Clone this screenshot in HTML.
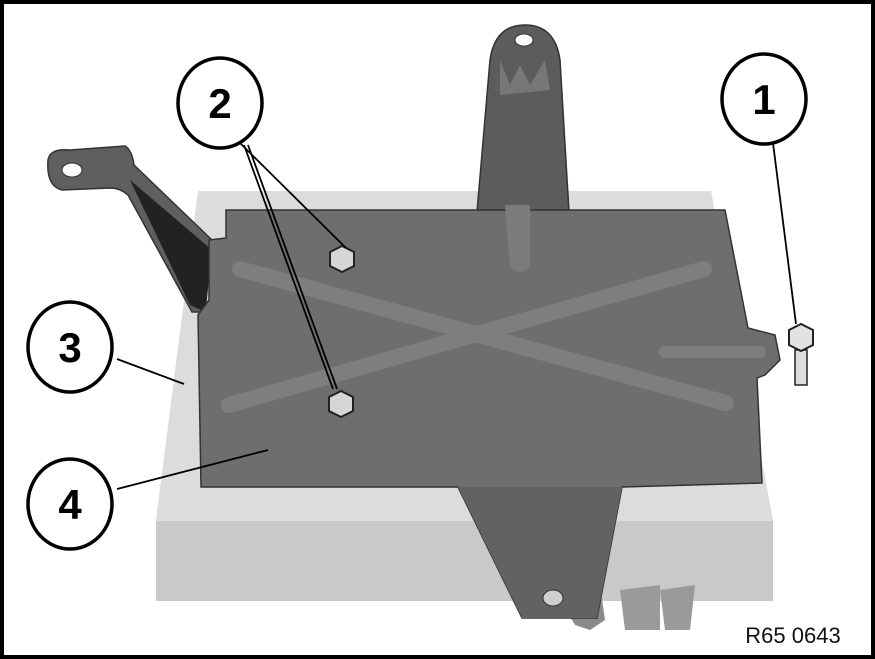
<!DOCTYPE html>
<html><head><meta charset="utf-8"><style>
html,body{margin:0;padding:0;background:#fff;}
svg{display:block;}
</style></head><body>
<svg width="875" height="659" viewBox="0 0 875 659">
<rect x="2" y="2" width="871" height="655" fill="#fff" stroke="#000" stroke-width="4"/>
<g>
<polygon points="198,191 711,191 773,520 773,601 156,601 156,520" fill="#dcdcdc"/>
<rect x="156" y="521" width="617" height="80" fill="#c9c9c9"/>
<polygon points="560,600 600,585 605,620 590,630 575,625" fill="#8a8a8a"/>
<polygon points="620,590 660,585 660,630 625,630" fill="#9a9a9a"/>
<polygon points="660,590 695,585 690,630 665,630" fill="#9a9a9a"/>
</g>
<g>
<path d="M48,160 Q50,148 70,150 L125,146 Q132,150 134,165 L212,240 L205,312 L192,312 L128,195 Q120,188 110,188 L62,190 Q46,186 48,160 Z" fill="#5f5f5f" stroke="#333" stroke-width="1.5"/>
<polygon points="130,180 212,250 205,312 190,305" fill="#222"/>
<ellipse cx="72" cy="170" rx="10" ry="7" fill="#fff" stroke="#333"/>
</g>
<g>
<path d="M477,212 L490,60 Q495,25 525,25 Q555,25 560,60 L569,212 Z" fill="#5c5c5c" stroke="#333" stroke-width="1.5"/>
<ellipse cx="524" cy="40" rx="9" ry="6" fill="#fff" stroke="#333"/>
<polygon points="500,60 510,85 520,65 530,85 545,60 550,90 500,95" fill="#777"/>
</g>
<g>
<polygon points="226,210 725,210 748,328 775,335 780,360 765,375 757,378 762,483 622,487 597,618 522,618 458,487 201,487 198,315 209,300 209,240 226,238" fill="#6e6e6e" stroke="#333" stroke-width="1.5"/>
<polygon points="458,487 622,487 597,618 522,618" fill="#626262"/>
<ellipse cx="553" cy="598" rx="10" ry="8" fill="#cfcfcf" stroke="#333"/>
<path d="M505,205 L530,205 L530,265 Q520,280 510,265 Z" fill="#7c7c7c"/>
<line x1="240" y1="269" x2="726" y2="403" stroke="#7e7e7e" stroke-width="16" stroke-linecap="round"/>
<line x1="229" y1="405" x2="704" y2="269" stroke="#7e7e7e" stroke-width="16" stroke-linecap="round"/>
<line x1="665" y1="352" x2="760" y2="352" stroke="#7e7e7e" stroke-width="12" stroke-linecap="round"/>
</g>
<g>
<polygon points="330,252 342,246 354,252 354,266 342,272 330,266" fill="#d6d6d6" stroke="#222" stroke-width="2"/>
<polygon points="329,397 341,391 353,397 353,411 341,417 329,411" fill="#d6d6d6" stroke="#222" stroke-width="2"/>
</g>
<g>
<rect x="795" y="350" width="12" height="35" fill="#ddd" stroke="#222" stroke-width="1.5"/>
<polygon points="789,330 801,324 813,330 813,345 801,351 789,345" fill="#e2e2e2" stroke="#222" stroke-width="2"/>
</g>
<g fill="none" stroke="#000" stroke-width="1.8">
<line x1="773" y1="143" x2="796" y2="324"/>
<line x1="240" y1="143" x2="346" y2="248"/>
<line x1="244" y1="145" x2="333" y2="389"/>
<line x1="248" y1="145" x2="337" y2="389"/>
<line x1="117" y1="359" x2="184" y2="384"/>
<line x1="117" y1="489" x2="268" y2="450"/>
</g>
<g font-family="Liberation Sans, sans-serif" font-weight="bold" font-size="42" text-anchor="middle">
<g><ellipse cx="764" cy="99" rx="42" ry="45" fill="#fff" stroke="#000" stroke-width="3.5"/><text x="764" y="114">1</text></g>
<g><ellipse cx="220" cy="103" rx="42" ry="45" fill="#fff" stroke="#000" stroke-width="3.5"/><text x="220" y="118">2</text></g>
<g><ellipse cx="70" cy="347" rx="42" ry="45" fill="#fff" stroke="#000" stroke-width="3.5"/><text x="70" y="362">3</text></g>
<g><ellipse cx="70" cy="504" rx="42" ry="45" fill="#fff" stroke="#000" stroke-width="3.5"/><text x="70" y="519">4</text></g>
</g>
<rect x="724" y="618" width="140" height="32" fill="#fff"/>
<text x="793" y="643" font-family="Liberation Sans, sans-serif" font-size="22" text-anchor="middle" fill="#111">R65 0643</text>
</svg>
</body></html>
